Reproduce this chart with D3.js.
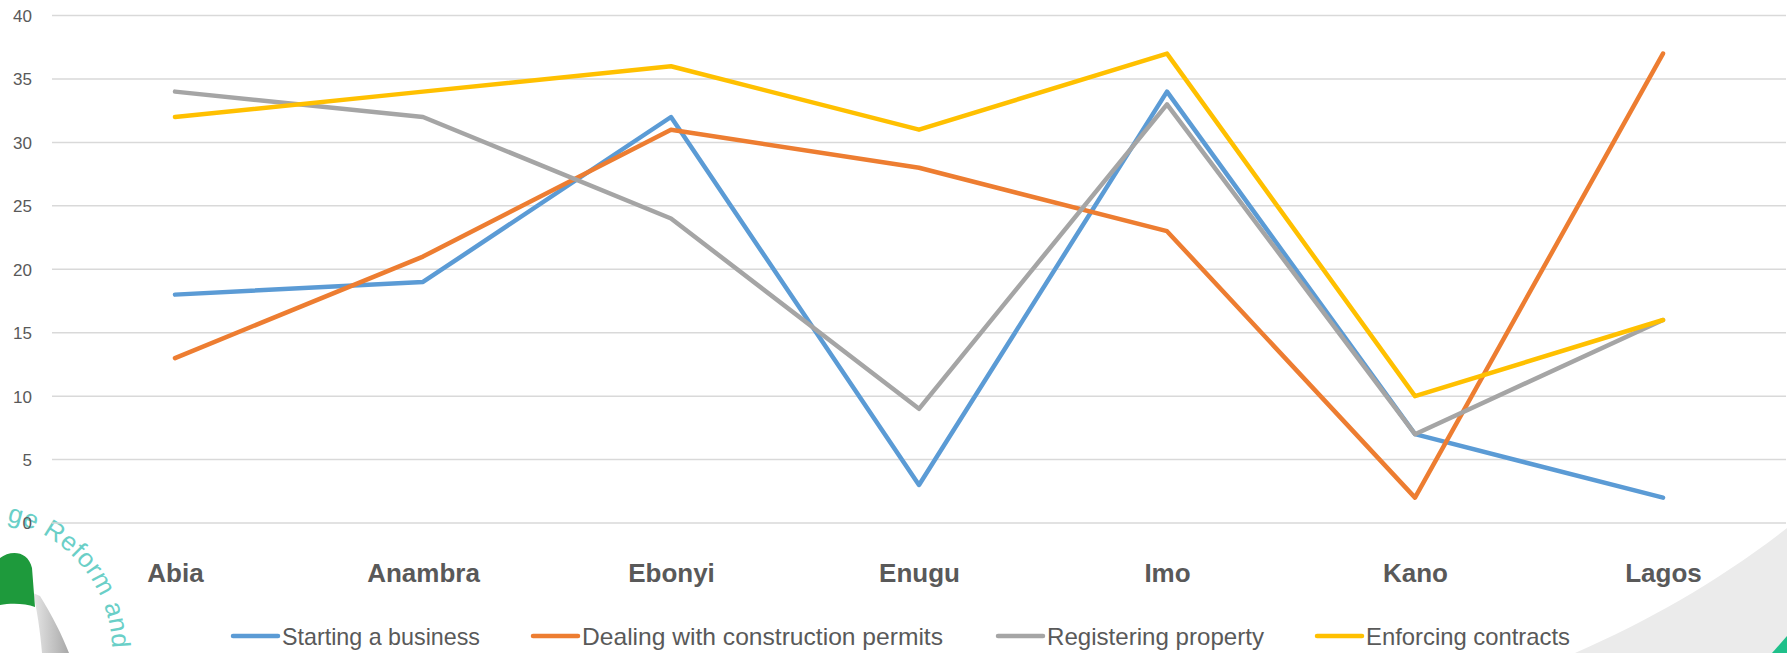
<!DOCTYPE html>
<html><head><meta charset="utf-8">
<script src="https://cdn.jsdelivr.net/npm/d3@7"></script>
<style>html,body{margin:0;padding:0;background:#fff;overflow:hidden}</style>
</head><body>
<svg id="chart" width="1787" height="653"></svg>
<script>
const categories = ["Abia","Anambra","Ebonyi","Enugu","Imo","Kano","Lagos"];
const seriesNames = ["Starting a business","Dealing with construction permits","Registering property","Enforcing contracts"];
const seriesColors = ["#5B9BD5","#ED7D31","#A5A5A5","#FFC000"];
const startingBusiness = [18,19,32,3,34,7,2];
const constructionPermits = [13,21,31,28,23,2,37];
const registeringProperty = [34,32,24,9,33,7,16];
const enforcingContracts = [32,34,36,31,37,10,16];
const yTicks = [0,5,10,15,20,25,30,35,40];
const legendTextWidths = [198,361,217,204];
const legendX = [233,533,998,1317];

const series = [startingBusiness,constructionPermits,registeringProperty,enforcingContracts];
const svg = d3.select("#chart");

// decorative background (logo & swoosh)
const deco = svg.append("g");
deco.append("path").attr("d","M1787,528 C1720,580 1650,620 1575,653 L1787,653 Z").attr("fill","#EBEBEB");
deco.append("path").attr("d","M1787,636 L1787,653 L1772,653 Z").attr("fill","#1FC08A");
const grad = svg.append("defs").append("linearGradient").attr("id","gg").attr("x1","0").attr("x2","1");
grad.append("stop").attr("offset","0").attr("stop-color","#E6E6E6");
grad.append("stop").attr("offset","1").attr("stop-color","#A8A8A8");
deco.append("path").attr("d","M33,593 L40,596 C52,615 62,635 69,653 L42,653 C40,630 37,610 33,593 Z").attr("fill","url(#gg)");
deco.append("path").attr("d","M0,558 C10,550 28,550 32,568 L35,607 C25,603 10,603 0,605 Z").attr("fill","#1E9A3C");
deco.append("path").attr("id","arcPath").attr("d","M-86,536 A132,132 0 0,1 110,673").attr("fill","none");
deco.append("text").attr("font-family","Liberation Sans").attr("font-size",26).attr("fill","#6ACFC7")
  .attr("letter-spacing",0.5)
  .append("textPath").attr("href","#arcPath").attr("startOffset",96).text("ge Reform and");

const x = d3.scalePoint().domain(categories).range([175,1663]);
const y = d3.scaleLinear().domain([0,40]).range([523,15.5]);

// grid
svg.append("g").selectAll("line").data(yTicks).join("line")
  .attr("x1",52).attr("x2",1786).attr("y1",d=>y(d)).attr("y2",d=>y(d))
  .attr("stroke","#D9D9D9").attr("stroke-width",1.5);

// y axis labels
const yAxis = d3.axisLeft(y).tickValues(yTicks).tickSize(0).tickPadding(0);
const ya = svg.append("g").attr("transform","translate(32,0)").call(yAxis);
ya.select(".domain").remove();
ya.selectAll("text").attr("font-family","Liberation Sans").attr("font-size",17).attr("fill","#595959").attr("dy","0.35em");

// x axis labels
const xAxis = d3.axisBottom(x).tickSize(0).tickPadding(0);
const xa = svg.append("g").attr("transform","translate(0,582)").call(xAxis);
xa.select(".domain").remove();
xa.selectAll("text").attr("font-family","Liberation Sans").attr("font-weight","bold").attr("font-size",26).attr("fill","#595959").attr("dy",0);

// lines
const line = d3.line().x((d,i)=>x(categories[i])).y(d=>y(d));
svg.append("g").selectAll("path").data(series).join("path")
  .attr("d",d=>line(d)).attr("fill","none")
  .attr("stroke",(d,i)=>seriesColors[i]).attr("stroke-width",4.5)
  .attr("stroke-linejoin","round").attr("stroke-linecap","round");

// legend
const lg = svg.append("g").selectAll("g").data(seriesNames).join("g")
  .attr("transform",(d,i)=>`translate(${legendX[i]},636)`);
lg.append("line").attr("x1",0).attr("x2",45).attr("stroke",(d,i)=>seriesColors[i]).attr("stroke-width",4.5).attr("stroke-linecap","round");
lg.append("text").attr("x",49).attr("y",9).attr("font-family","Liberation Sans Narrow, Liberation Sans").attr("font-size",24)
  .attr("fill","#595959").attr("textLength",(d,i)=>legendTextWidths[i]).attr("lengthAdjust","spacingAndGlyphs").text(d=>d);
</script>
</body></html>
